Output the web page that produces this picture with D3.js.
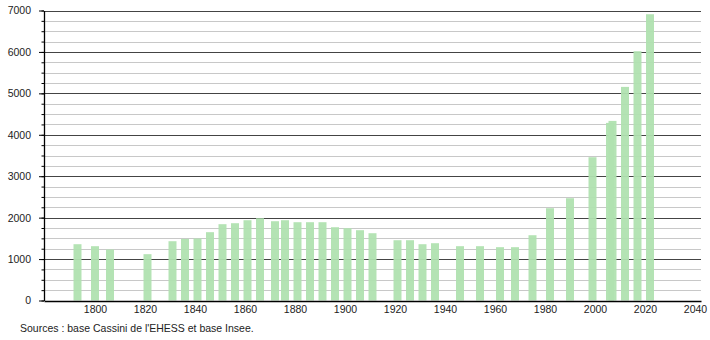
<!DOCTYPE html>
<html>
<head>
<meta charset="utf-8">
<script src="https://cdn.jsdelivr.net/npm/d3@7"></script>
<style>
    body { margin: 0; background: #fff; }
    svg { display: block; font-family: "Liberation Sans", Arial, sans-serif; }
    .axis text { font-size: 10.5px; fill: #222; }
    .source { font-size: 10.5px; fill: #222; }
</style>
</head>
<body>
<svg width="710" height="340"></svg>
<script>
// Jaren van de tellingen en het aantal inwoners
const jaren = [1793, 1800, 1806, 1821, 1831, 1836, 1841, 1846, 1851, 1856,
    1861, 1866, 1872, 1876, 1881, 1886, 1891, 1896, 1901, 1906,
    1911, 1921, 1926, 1931, 1936, 1946, 1954, 1962, 1968, 1975,
    1982, 1990, 1999, 2006, 2007, 2012, 2017, 2022]
const inwoners = [1359, 1311, 1231, 1118, 1431, 1487, 1496, 1649, 1842, 1866,
    1938, 1986, 1914, 1938, 1890, 1890, 1890, 1769, 1745, 1697,
    1624, 1455, 1455, 1359, 1383, 1311, 1311, 1287, 1287, 1576,
    2228, 2469, 3459, 4287, 4335, 5156, 6017, 6910]

// Labels op de assen
const yTicks = [0, 1000, 2000, 3000, 4000, 5000, 6000, 7000]
const yMinorTicks = d3.range(0, 7001, 250)
const xTicks = [1800, 1820, 1840, 1860, 1880, 1900, 1920, 1940, 1960, 1980, 2000, 2020, 2040]

const bron = "Sources : base Cassini de l'EHESS et base Insee."

const data = jaren.map((jaar, i) => ({ jaar: jaar, aantal: inwoners[i] }))

const svg = d3.select("svg")

const margin = { top: 10.5, right: 9, bottom: 40, left: 44 }
const width = +svg.attr("width")
const height = +svg.attr("height")

const xScale = d3.scaleLinear()
    .domain([1779.6, 2042.4])
    .range([margin.left, width - margin.right])

const yScale = d3.scaleLinear()
    .domain([0, 7000])
    .range([300.5, margin.top])

// Hulplijnen: eerst de lichte, dan de donkere
svg.append("g")
    .selectAll("line")
    .data(yMinorTicks.filter(d => d % 1000 !== 0))
    .enter()
    .append("line")
    .attr("x1", margin.left)
    .attr("x2", width - margin.right)
    .attr("y1", d => Math.round(yScale(d)) + 0.5)
    .attr("y2", d => Math.round(yScale(d)) + 0.5)
    .attr("stroke", "#c8c8c8")

svg.append("g")
    .selectAll("line")
    .data(yTicks.filter(d => d > 0))
    .enter()
    .append("line")
    .attr("x1", margin.left)
    .attr("x2", width - margin.right)
    .attr("y1", d => Math.round(yScale(d)) + 0.5)
    .attr("y2", d => Math.round(yScale(d)) + 0.5)
    .attr("stroke", "#444")

// De staven
svg.append("g")
    .selectAll("rect")
    .data(data)
    .enter()
    .append("rect")
    .attr("x", d => xScale(d.jaar) - 4)
    .attr("y", d => yScale(d.aantal))
    .attr("width", 8)
    .attr("height", d => yScale(0) - yScale(d.aantal))
    .attr("fill", "#b0e2b0")
    .attr("fill-opacity", 0.95)

// Kleine streepjes op de y-as
svg.append("g")
    .attr("transform", `translate(${margin.left},0)`)
    .call(d3.axisLeft(yScale)
        .tickValues(yMinorTicks)
        .tickSize(2.5)
        .tickSizeOuter(0)
        .tickFormat(""))
    .call(g => g.selectAll("line").attr("stroke", "#000"))

// y-as met labels
svg.append("g")
    .attr("class", "axis")
    .attr("transform", `translate(${margin.left},0)`)
    .call(d3.axisLeft(yScale)
        .tickValues(yTicks)
        .tickSize(5)
        .tickSizeOuter(0)
        .tickPadding(8)
        .tickFormat(d3.format("d")))
    .call(g => g.select(".domain").attr("stroke", "#000").attr("stroke-width", 1.3))
    .call(g => g.selectAll("line").attr("stroke", "#000"))
    .call(g => g.selectAll("text").attr("font-family", null).attr("font-size", null))

// x-as met labels
svg.append("g")
    .attr("class", "axis")
    .attr("transform", `translate(0,${Math.round(yScale(0))})`)
    .call(d3.axisBottom(xScale)
        .tickValues(xTicks)
        .tickSize(0)
        .tickSizeOuter(0)
        .tickPadding(4.5)
        .tickFormat(d3.format("d")))
    .call(g => g.select(".domain").attr("stroke", "#000").attr("stroke-width", 1.3))
    .call(g => g.selectAll("text").attr("font-family", null).attr("font-size", null))

// Bronvermelding
svg.append("text")
    .attr("class", "source")
    .attr("x", 20)
    .attr("y", 332)
    .text(bron)
</script>
</body>
</html>
